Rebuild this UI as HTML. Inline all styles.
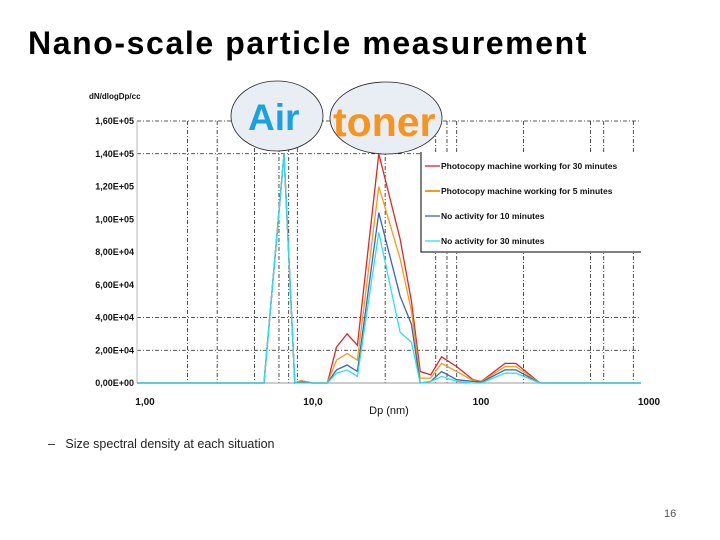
<!DOCTYPE html>
<html><head><meta charset="utf-8">
<style>
body{margin:0;width:720px;height:540px;background:#fff;overflow:hidden;font-family:"Liberation Sans",sans-serif;}
#title{position:absolute;left:28px;top:25px;font-size:32px;font-weight:bold;font-family:"Liberation Sans",sans-serif;color:#000;letter-spacing:1.6px}
#bullet{position:absolute;left:48px;top:437px;font-size:12.5px;color:#222}
#pnum{position:absolute;left:664px;top:508px;font-size:11px;color:#555}
svg{position:absolute;left:0;top:0}
</style></head><body>
<div id="title">Nano-scale particle measurement</div>
<div id="bullet">–&nbsp;&nbsp; Size spectral density at each situation</div>
<div id="pnum">16</div>
<svg id="chart" width="720" height="540"></svg>
<script>
const dp = [1,4.9,5.7,7.5,8.7,9.5,11,13.6,15.4,17.8,20.5,27.5,36.8,43,48.5,56,65,80,100,112,155,180,250,1000];
const seriesNames = ["Photocopy machine working for 30 minutes","Photocopy machine working for 5 minutes","No activity for 10 minutes","No activity for 30 minutes"];
const seriesColors = ["#d42a2a","#f39c1e","#3a64b4","#2fe0e8"];
const red    = [0,0,0,140000,0,1500,0,0,22000,30000,23000,140000,88000,50000,7000,5000,16000,10000,2000,1000,12000,12000,0,0];
const orange = [0,0,0,139000,0,1500,0,0,14000,18000,14000,120000,76000,44000,3000,3000,12000,7000,1500,800,10000,10000,0,0];
const blue   = [0,0,0,140000,0,500,0,0,8000,11000,7000,104000,53000,36000,0,1000,7000,2000,1000,500,8000,8000,0,0];
const cyan   = [0,0,0,140000,0,0,0,0,6000,8000,4000,92000,31000,25000,0,1000,4000,1000,0,0,6000,6000,0,0];
const yTicks = [0,20000,40000,60000,80000,100000,120000,140000,160000];
const yTickLabels = ["0,00E+00","2,00E+04","4,00E+04","6,00E+04","8,00E+04","1,00E+05","1,20E+05","1,40E+05","1,60E+05"];
const xTicks = [1,10,100,1000];
const xTickLabels = ["1,00","10,0","100","1000"];
const xGrid = [2,3,5,7,8,9,30,60,70,80,200,500,600,900];
const yGrid = [20000,40000,140000,160000];

const NS="http://www.w3.org/2000/svg";
const svg=document.getElementById('chart');
const X0=137,X1=641,Y0=383,Y1=121;
function xs(d){return X0+(X1-X0)*Math.log10(d)/3;}
function ys(v){return Y0-(Y0-Y1)*v/160000;}
function mk(tag,attrs,parent){const e=document.createElementNS(NS,tag);for(const k in attrs)e.setAttribute(k,attrs[k]);(parent||svg).appendChild(e);return e;}

xGrid.forEach(d=>{const l=mk('line',{x1:xs(d),x2:xs(d),y1:Y1,y2:Y0,stroke:'#222','stroke-width':0.8,'stroke-dasharray':'4,2,1,2'});

});
yGrid.forEach(v=>{const l=mk('line',{x1:X0,x2:X1,y1:ys(v),y2:ys(v),stroke:'#222','stroke-width':0.8,'stroke-dasharray':'4,2,1,2'});

});
const ax=mk('line',{x1:X0,x2:X1,y1:Y0,y2:Y0,stroke:'#999','stroke-width':1});


const ay=mk('line',{x1:X0,x2:X0,y1:Y1,y2:Y0,stroke:'#bbb','stroke-width':1});



yTicks.forEach((v,i)=>{const t=mk('text',{x:X0-3,y:ys(v)+3,'text-anchor':'end','font-size':9,'font-weight':'bold',fill:'#111'});t.textContent=yTickLabels[i];

});
xTicks.forEach((d,i)=>{const t=mk('text',{x:xs(d)+8,y:405,'text-anchor':'middle','font-size':10,'font-weight':'bold',fill:'#111'});t.textContent=xTickLabels[i];

});
const xt=mk('text',{x:389,y:414,'text-anchor':'middle','font-size':11,fill:'#111'});xt.textContent='Dp (nm)';


const yt=mk('text',{x:89,y:99,'font-size':8,'font-weight':'bold',fill:'#111'});yt.textContent='dN/dlogDp/cc';



[red,orange,blue,cyan].forEach((s,i)=>{const pts=dp.map((d,j)=>xs(d).toFixed(1)+','+ys(s[j]).toFixed(1)).join(' ');
const p=mk('polyline',{points:pts,fill:'none',stroke:seriesColors[i],'stroke-width':1.3});

});

const e1=mk('ellipse',{cx:277,cy:116,rx:46,ry:35,fill:'#e9eef4',stroke:'#222','stroke-width':0.8});


const e2=mk('ellipse',{cx:386,cy:118,rx:56,ry:36,fill:'#e9eef4',stroke:'#222','stroke-width':0.8});


const ta=mk('text',{x:248,y:130,'font-size':37,'font-weight':'bold',fill:'#1ba1e2'});ta.textContent='Air';


const tt=mk('text',{x:333,y:136,'font-size':41,'font-weight':'bold',fill:'#f7941d'});tt.textContent='toner';



const lg=mk('g',{});


mk('rect',{x:421,y:152,width:220,height:100,fill:'#fff'},lg);
mk('polyline',{points:'421,152 421,252 641,252',fill:'none',stroke:'#000','stroke-width':1},lg);
seriesNames.forEach((n,i)=>{const y=166+i*25;
const ln=mk('line',{x1:425,x2:440,y1:y,y2:y,stroke:seriesColors[i],'stroke-width':i==1?2:1.3},lg);


const t=mk('text',{x:441,y:y+3,'font-size':8.5,'font-weight':'bold',fill:'#111'},lg);t.textContent=n;

});
</script>
</body></html>
